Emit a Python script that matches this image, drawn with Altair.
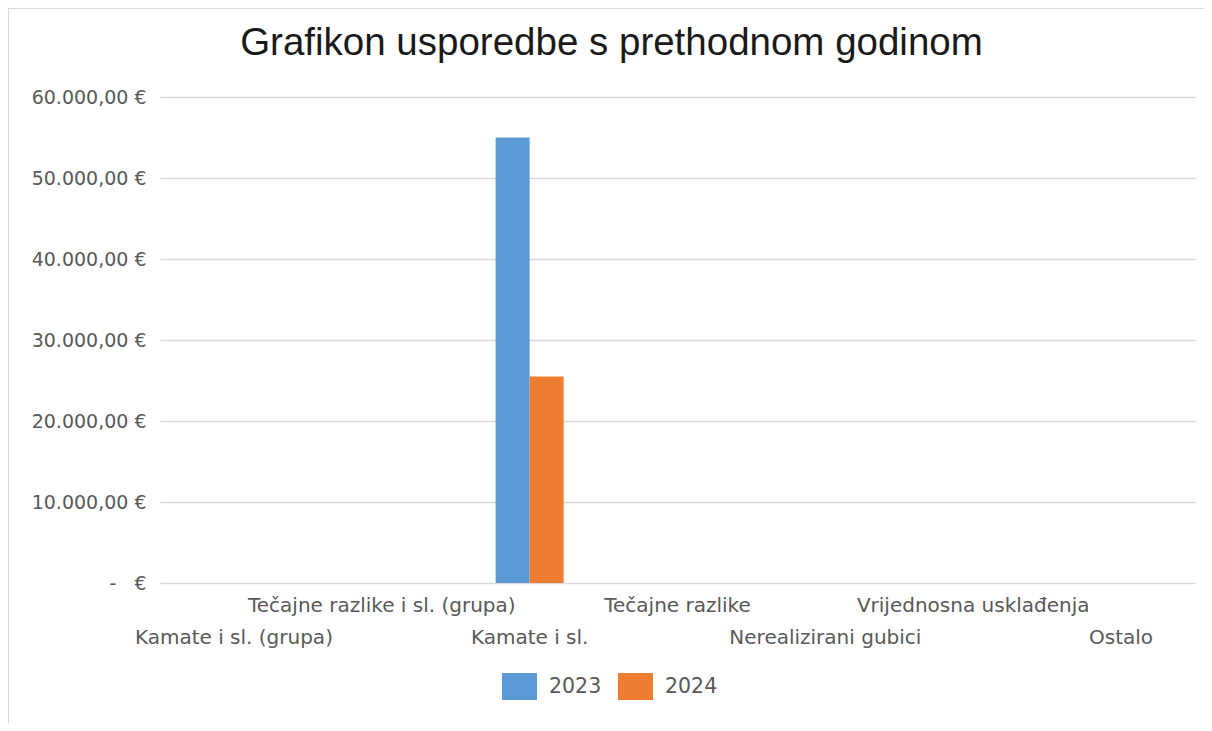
import altair as alt
import pandas as pd

categories = [
    "Kamate i sl. (grupa)",
    "Tečajne razlike i sl. (grupa)",
    "Kamate i sl.",
    "Tečajne razlike",
    "Nerealizirani gubici",
    "Vrijednosna usklađenja",
    "Ostalo",
]
years = ["2023", "2024"]
values_2023 = [0, 0, 55000, 0, 0, 0, 0]
values_2024 = [0, 0, 25500, 0, 0, 0, 0]
y_ticks = [0, 10000, 20000, 30000, 40000, 50000, 60000]

rows = []
for c, v in zip(categories, values_2023):
    rows.append({"Kategorija": c, "Godina": "2023", "Iznos": v})
for c, v in zip(categories, values_2024):
    rows.append({"Kategorija": c, "Godina": "2024", "Iznos": v})
df = pd.DataFrame(rows)

cat_js = "[" + ",".join("'" + c + "'" for c in categories) + "]"
x_label_expr = (
    f"indexof({cat_js}, datum.value) % 2 == 1 ? [datum.value, '\u00a0'] : ['\u00a0', datum.value]"
)
y_label_expr = (
    "datum.value == 0 ? '-\u00a0\u00a0\u00a0€' : "
    "replace(replace(replace(format(datum.value, ',.2f'), ',', '#'), '.', ','), '#', '.') + ' €'"
)

label_color = "#595959"
grid_color = "#d9d9d9"

bars = alt.Chart(df).mark_bar().encode(
    x=alt.X(
        "Kategorija:N",
        sort=categories,
        scale=alt.Scale(paddingInner=0.54, paddingOuter=0.27),
        axis=alt.Axis(
            title=None,
            labelExpr=x_label_expr,
            labelAngle=0,
            ticks=False,
            domain=False,
            grid=False,
            labelFont="DejaVu Sans",
            labelFontSize=20,
            labelColor=label_color,
            labelPadding=28,
            labelBaseline="alphabetic",
            labelLineHeight=32,
            labelOverlap=False,
            labelLimit=600,
            labelBound=False,
        ),
    ),
    xOffset=alt.XOffset(
        "Godina:N", sort=years, scale=alt.Scale(paddingInner=0, paddingOuter=0)
    ),
    y=alt.Y(
        "Iznos:Q",
        scale=alt.Scale(domain=[0, 60000], nice=False),
        axis=alt.Axis(
            title=None,
            values=y_ticks,
            labelExpr=y_label_expr,
            ticks=False,
            domain=False,
            grid=True,
            gridColor=grid_color,
            gridWidth=1.5,
            labelFont="DejaVu Sans",
            labelFontSize=19,
            labelColor=label_color,
            labelPadding=14,
        ),
    ),
    color=alt.Color(
        "Godina:N",
        scale=alt.Scale(domain=years, range=["#5b9bd5", "#ed7d31"]),
        legend=alt.Legend(
            title=None,
            orient="none",
            direction="horizontal",
            legendX=342,
            legendY=572,
            symbolType="M-1,-0.771L1,-0.771L1,0.771L-1,0.771Z",
            symbolSize=1225,
            symbolStrokeWidth=0,
            labelFont="DejaVu Sans",
            labelFontSize=20.5,
            labelColor=label_color,
            labelOffset=12,
            columnPadding=16,
            padding=0,
        ),
    ),
)

frame_src = pd.DataFrame({"a": [0]})
border_top = alt.Chart(frame_src).mark_rule(
    stroke="#d9d9d9", strokeWidth=2
).encode(
    x=alt.value(-152),
    x2=alt.value(1052),
    y=alt.value(-89),
)
border_left = alt.Chart(frame_src).mark_rule(
    stroke="#d9d9d9", strokeWidth=2
).encode(
    x=alt.value(-152),
    y=alt.value(-89),
    y2=alt.value(640),
)

chart = (
    alt.layer(border_top, border_left, bars)
    .properties(
        width=1035,
        height=486,
        background="white",
        autosize=alt.AutoSizeParams(type="none"),
        padding={"left": 152, "top": 89, "right": 9, "bottom": 140},
        title=alt.TitleParams(
            text="Grafikon usporedbe s prethodnom godinom",
            font="Liberation Sans",
            fontSize=38.5,
            fontWeight="normal",
            color="#1a1a1a",
            anchor="middle",
            frame="group",
            dx=-66,
            dy=86,
            baseline="alphabetic",
            offset=0,
        ),
    )
    .configure_view(stroke="transparent", strokeWidth=0)
)

chart.save("out.html", embed_options={"renderer": "svg", "actions": False})
